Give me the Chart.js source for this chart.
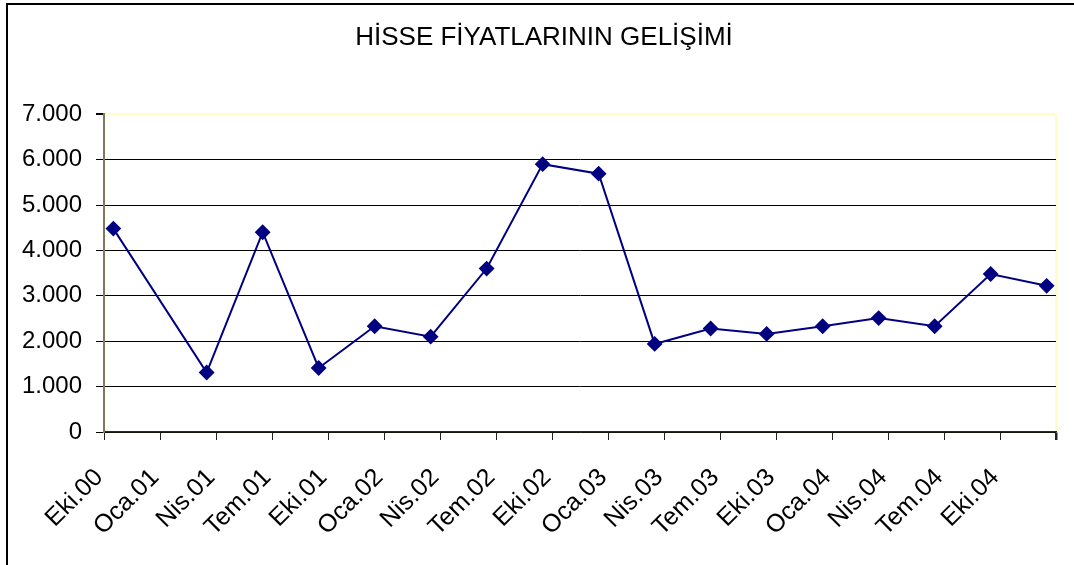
<!DOCTYPE html>
<html>
<head>
<meta charset="utf-8">
<script src="https://cdn.jsdelivr.net/npm/chart.js@4"></script>
<style>
  html, body { margin: 0; padding: 0; background: #fff; overflow: hidden; }
  #wrap { position: relative; width: 1074px; height: 565px; }
  #frame { position: absolute; left: 6px; top: 3px; width: 1100px; height: 600px;
           border-left: 2px solid #000; border-top: 2px solid #000; }
  #chart { position: absolute; left: 0; top: 0; }
</style>
</head>
<body>
<div id="wrap">
  <div id="frame"></div>
  <canvas id="chart" width="1074" height="565"></canvas>
</div>
<script>
// Veriler (ay sonu fiyatları)
var dates = ['2000-10', '2001-03', '2001-06', '2001-09', '2001-12', '2002-03', '2002-06', '2002-09', '2002-12',
             '2003-03', '2003-06', '2003-09', '2003-12', '2004-03', '2004-06', '2004-09', '2004-12'];
var prices = [4480, 1310, 4400, 1410, 2330, 2100, 3600, 5900, 5690,
              1940, 2280, 2160, 2330, 2510, 2330, 3480, 3220];
var tickLabels = ['Eki.00', 'Oca.01', 'Nis.01', 'Tem.01', 'Eki.01', 'Oca.02', 'Nis.02', 'Tem.02', 'Eki.02',
                  'Oca.03', 'Nis.03', 'Tem.03', 'Eki.03', 'Oca.04', 'Nis.04', 'Tem.04', 'Eki.04'];
var yTicks = [0, 1000, 2000, 3000, 4000, 5000, 6000, 7000];

// month index from Eki.00, point sits in the middle of its month
function monthPos(d) {
    var p = d.split('-');
    return (parseInt(p[0], 10) - 2000) * 12 + (parseInt(p[1], 10) - 10) + 0.5;
}
function fmt(v) {
    return String(v).replace(/\B(?=(\d{3})+(?!\d))/g, '.');
}

var points = dates.map(function(d, i) { return { x: monthPos(d), y: prices[i] }; });
var xMax = tickLabels.length * 3;
var FONT = 'Liberation Sans, Arial, sans-serif';
var yellow = '#ffffc4';

// title centred a bit right of the canvas middle, as in the original
var titleShift = {
    id: 'titleShift',
    afterLayout: function(chart) {
        if (chart.titleBlock) {
            chart.titleBlock.left = 14;
            chart.titleBlock.right = chart.width;
        }
    }
};

new Chart(document.getElementById('chart').getContext('2d'), {
    type: 'line',
    data: {
        datasets: [{
            data: points,
            borderColor: '#000080',
            backgroundColor: '#000080',
            borderWidth: 2,
            pointStyle: 'rectRot',
            pointRadius: 6.5,
            pointHoverRadius: 6.5,
            tension: 0
        }]
    },
    plugins: [titleShift],
    options: {
        responsive: false,
        animation: false,
        layout: { padding: { left: 0, right: 18, top: 0, bottom: 0 } },
        plugins: {
            legend: { display: false },
            tooltip: { enabled: false },
            title: {
                display: true,
                text: 'HİSSE FİYATLARININ GELİŞİMİ',
                color: '#000',
                font: { family: FONT, size: 26, weight: 'normal', lineHeight: 1.2 },
                padding: { top: 22, bottom: 61 }
            }
        },
        scales: {
            x: {
                type: 'linear',
                min: 0,
                max: xMax,
                afterFit: function(s) { s.height = 133; s.paddingLeft = 0; s.paddingRight = 0; },
                afterBuildTicks: function(s) {
                    var t = [];
                    for (var v = 0; v <= xMax; v += 3) t.push({ value: v });
                    s.ticks = t;
                },
                ticks: {
                    autoSkip: false,
                    maxRotation: 45,
                    minRotation: 45,
                    padding: 18,
                    color: '#000',
                    font: { family: FONT, size: 25 },
                    callback: function(v) { var l = tickLabels[v / 3]; return l ? l + ' ' : ''; }
                },
                grid: {
                    drawOnChartArea: true,
                    color: function(c) { return c.tick && c.tick.value === xMax ? yellow : 'rgba(0,0,0,0)'; },
                    lineWidth: function(c) { return c.tick && c.tick.value === xMax ? 2.5 : 1; },
                    tickColor: '#222',
                    tickLength: 8
                },
                border: { color: '#2b2b1c', width: 1.5 }
            },
            y: {
                min: 0,
                max: 7000,
                afterFit: function(s) { s.width = 104; },
                afterBuildTicks: function(s) {
                    s.ticks = yTicks.map(function(v) { return { value: v }; });
                },
                ticks: {
                    padding: 14,
                    color: '#000',
                    font: { family: FONT, size: 24 },
                    callback: function(v) { return fmt(v); }
                },
                grid: {
                    color: function(c) { return c.tick && c.tick.value === 7000 ? yellow : '#000'; },
                    lineWidth: function(c) { return c.tick && c.tick.value === 7000 ? 2 : 1; },
                    tickColor: '#000',
                    tickLength: 8
                },
                border: { color: '#7c7a5c', width: 2 }
            }
        }
    }
});
</script>
</body>
</html>
